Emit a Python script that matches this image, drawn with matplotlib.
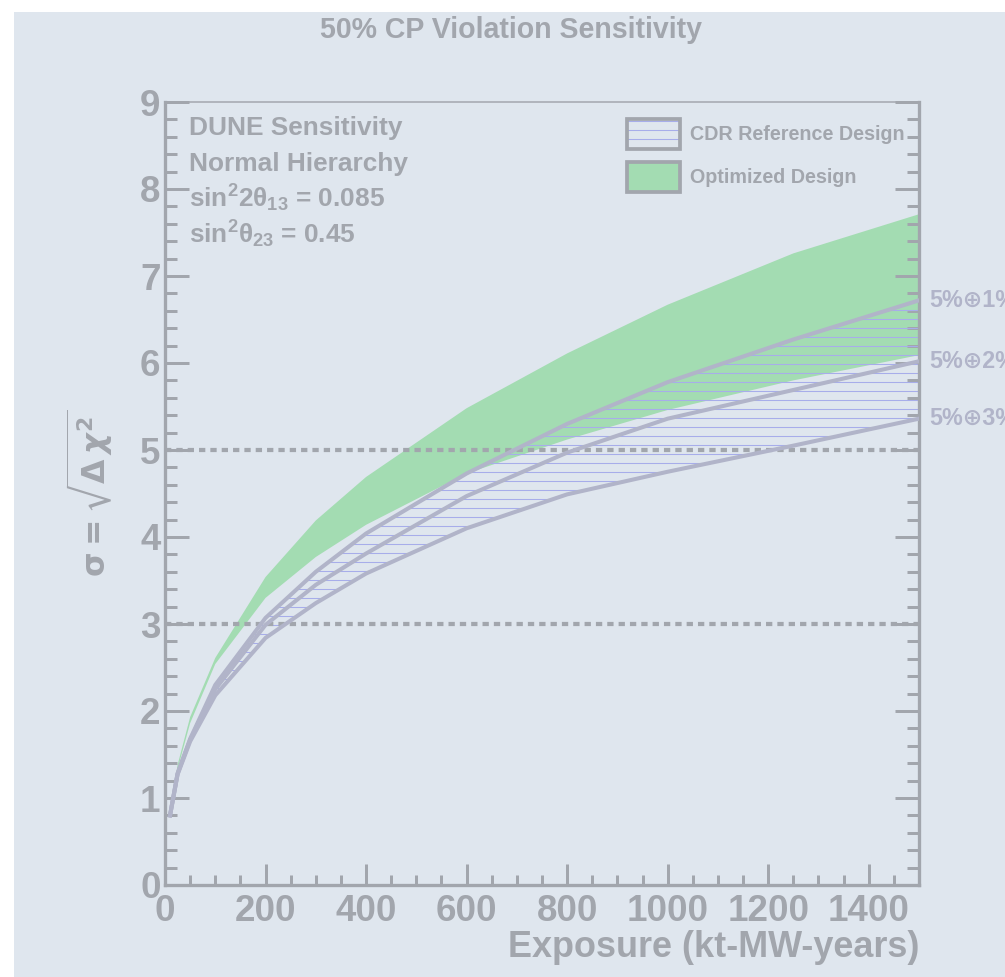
import matplotlib
matplotlib.use("Agg")
import matplotlib.pyplot as plt
from matplotlib.patches import Patch, Rectangle
from matplotlib.ticker import MultipleLocator

# Daten
exposure = [10, 25, 50, 100, 200, 300, 400, 600, 800, 1000, 1250, 1500]
opt_hi = [0.85, 1.38, 1.93, 2.61, 3.54, 4.19, 4.69, 5.48, 6.11, 6.67, 7.26, 7.71]
opt_lo = [0.82, 1.33, 1.86, 2.54, 3.30, 3.77, 4.14, 4.73, 5.12, 5.46, 5.80, 6.09]
cdr_1 = [0.80, 1.28, 1.68, 2.30, 3.07, 3.60, 4.04, 4.73, 5.30, 5.78, 6.27, 6.72]
cdr_2 = [0.80, 1.28, 1.67, 2.25, 2.99, 3.45, 3.81, 4.47, 4.97, 5.36, 5.69, 6.02]
cdr_3 = [0.80, 1.27, 1.65, 2.18, 2.84, 3.24, 3.58, 4.10, 4.49, 4.75, 5.05, 5.36]
sys_labels = ["5%⊕1%", "5%⊕2%", "5%⊕3%"]
sigma_lines = [3, 5]
info_lines = ["DUNE Sensitivity", "Normal Hierarchy",
              r"sin$^{2}$2$\theta_{13}$ = 0.085", r"sin$^{2}$$\theta_{23}$ = 0.45"]

bg = "#dfe6ee"
grey = "#a2a6ad"
line_col = "#b1b4c9"
hatch_col = "#a7adea"
green = "#a3dcb2"

DPI = 108
plt.rcParams["font.family"] = ["Liberation Sans", "DejaVu Sans"]
plt.rcParams["font.weight"] = "bold"
plt.rcParams["hatch.linewidth"] = 0.7
plt.rcParams["mathtext.fontset"] = "custom"
plt.rcParams["mathtext.rm"] = "Liberation Sans:bold"
plt.rcParams["mathtext.it"] = "Liberation Sans:bold"
plt.rcParams["mathtext.bf"] = "Liberation Sans:bold"

fig = plt.figure(figsize=(1005 / DPI, 977 / DPI), dpi=DPI, facecolor="white")
fig.patches.append(Rectangle((14 / 1005, 0), 1, 965 / 977, transform=fig.transFigure,
                             facecolor=bg, edgecolor="none", zorder=-10))
ax = fig.add_axes([165 / 1005, 1 - 885 / 977, 754 / 1005, 783 / 977])
ax.set_facecolor("none")

# Optimized (gruen)
ax.fill_between(exposure, opt_lo, opt_hi, facecolor=green, edgecolor="none", lw=0, zorder=1)
# CDR schraffiert
ax.fill_between(exposure, cdr_3, cdr_1, facecolor="none", edgecolor=hatch_col, hatch="--",
                lw=0, zorder=2)
for c in (cdr_1, cdr_2, cdr_3):
    ax.plot(exposure, c, color=line_col, lw=2.7, zorder=4, solid_joinstyle="miter")

for s in sigma_lines:
    ax.axhline(s, color=grey, lw=2.8, ls=(0, (1.5, 1.2)), zorder=3)

ax.set_xlim(0, 1500)
ax.set_ylim(0, 9)
ax.xaxis.set_major_locator(MultipleLocator(200))
ax.xaxis.set_minor_locator(MultipleLocator(50))
ax.yaxis.set_major_locator(MultipleLocator(1))
ax.yaxis.set_minor_locator(MultipleLocator(0.2))

ax.tick_params(axis="both", which="both", direction="in", color=grey, width=2,
               labelcolor=grey, labelsize=24.5, right=True, top=False)
ax.tick_params(axis="y", which="major", length=16, pad=3)
ax.tick_params(axis="y", which="minor", length=8)
ax.tick_params(axis="x", which="major", length=14, pad=6)
ax.tick_params(axis="x", which="minor", length=7)
for lab in ax.get_xticklabels() + ax.get_yticklabels():
    lab.set_fontweight("bold")

for name, sp in ax.spines.items():
    sp.set_color(grey)
    sp.set_linewidth(1.0 if name == "top" else 2.2)

ax.set_xlabel("Exposure (kt-MW-years)", fontsize=24, color=grey, fontweight="bold",
              ha="right", va="top")
ax.xaxis.set_label_coords(1.0, -0.058)
ax.set_ylabel(r"$\mathrm{\sigma} = \sqrt{\Delta\,\chi^{2}}$", fontsize=21, color=grey,
              fontweight="normal", math_fontfamily="dejavusans")
ax.yaxis.set_label_coords(-0.066, 0.5)

fig.text(511 / 1005, 1 - 30 / 977, "50% CP Violation Sensitivity", ha="center", va="center",
         fontsize=19, color=grey, fontweight="bold")

for i, t in enumerate(info_lines):
    fig.text(189 / 1005, 1 - (135 + 36 * i) / 977, t, ha="left", va="baseline",
             fontsize=17.5, color=grey, fontweight="bold")

ends = [cdr_1[-1], cdr_2[-1], cdr_3[-1]]
for lab, yv in zip(sys_labels, ends):
    ax.text(1520, yv, lab, ha="left", va="center", fontsize=15.5, color=line_col,
            fontweight="bold", clip_on=False)

h_cdr = (Patch(facecolor="none", edgecolor=hatch_col, hatch="--", lw=0),
         Patch(facecolor="none", edgecolor=grey, lw=2.5))
h_opt = Patch(facecolor=green, edgecolor=grey, lw=2.5)
leg = ax.legend([h_cdr, h_opt], ["CDR Reference Design", "Optimized Design"],
                loc="upper left", bbox_to_anchor=((627 - 165) / 754, (885 - 119) / 783),
                frameon=False, fontsize=13.2, handlelength=2.7, handleheight=1.97,
                handletextpad=0.5, labelspacing=0.63, borderpad=0, borderaxespad=0)
for t in leg.get_texts():
    t.set_color(grey)
    t.set_fontweight("bold")

fig.savefig("out.png", dpi=DPI, facecolor="white")
